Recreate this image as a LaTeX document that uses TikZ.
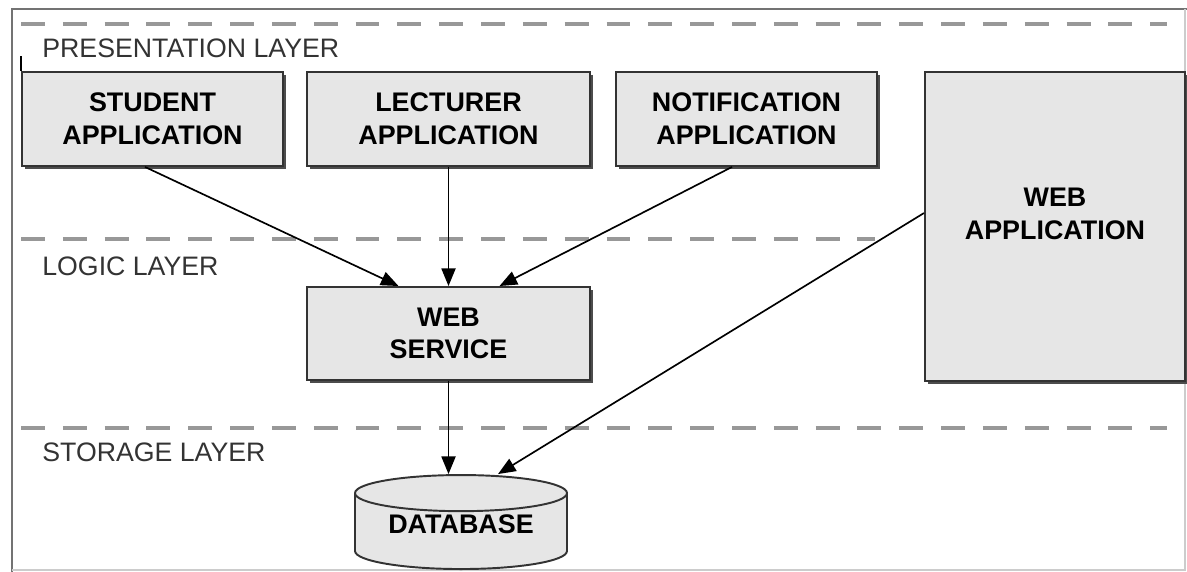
\documentclass[tikz,border=0pt]{standalone}
\usepackage{fontspec}
\setmainfont{Liberation Sans}
\usetikzlibrary{arrows.meta,shapes.geometric,shadows}
\definecolor{boxgray}{RGB}{230,230,230}
\definecolor{dashgray}{RGB}{152,152,152}
\tikzset{
    component/.style={
    rectangle,draw=black!80,line width=1.1pt,fill=boxgray,
    align=center,font=\fontsize{15.3}{18.5}\selectfont\bfseries,
    drop shadow={shadow xshift=1.8pt,shadow yshift=-1.8pt,fill=black!70,opacity=1}
    },
    storage/.style={
    cylinder,shape border rotate=90,aspect=0.23,draw=black!80,line width=1.1pt,
    fill=boxgray,font=\fontsize{15.3}{18.5}\selectfont\bfseries
    },
    layer/.style={
    dash pattern=on 13.6pt off 10.2pt,line width=2.3pt,draw=dashgray
    },
    layername/.style={
    anchor=west,inner sep=0pt,text=black!80,font=\fontsize{15.2}{19}\selectfont
    },
    call/.style={
    -{Triangle[length=10pt,width=8pt]},line width=0.95pt,draw=black
    },
}
\begin{document}
\begin{tikzpicture}
   \useasboundingbox (0,0) rectangle (23.74,-11.44);
   % outer frame
   \draw[black!55,line width=1.2pt] (0.24,-11.44) -- (0.24,-0.18) -- (23.74,-0.18);
   \draw[black!20,line width=0.6pt] (23.70,-0.18) -- (23.70,-11.40) -- (0.24,-11.40);

   % layer borders and names
   \draw[layer] (0.42,-0.48) -- (23.34,-0.48);
   \draw[layer] (0.42,-4.78) -- (17.50,-4.78);
   \draw[layer] (0.42,-8.56) -- (23.34,-8.56);
   \node[layername] (pres) at (0.84,-0.96) {PRESENTATION LAYER};
   \node[layername] (logic) at (0.84,-5.32) {LOGIC LAYER};
   \node[layername] (store) at (0.84,-9.04) {STORAGE LAYER};

   % clients
   \node[component,minimum width=5.22cm,minimum height=1.88cm] (stud) at (3.05,-2.38) {STUDENT\\APPLICATION};
   \node[component,minimum width=5.66cm,minimum height=1.88cm] (lect) at (8.97,-2.38) {LECTURER\\APPLICATION};
   \node[component,minimum width=5.22cm,minimum height=1.88cm] (noti) at (14.93,-2.38) {NOTIFICATION\\APPLICATION};
   \node[component,minimum width=5.20cm,minimum height=6.18cm,text depth=0.5cm] (webapp) at (21.10,-4.53) {WEB\\APPLICATION};
   \draw[black,line width=1pt] (stud.north west) -- ++(0,0.3);

   % service and storage
   \node[component,minimum width=5.66cm,minimum height=1.86cm] (ws) at (8.97,-6.67) {WEB\\SERVICE};
   \node[storage,minimum width=4.24cm,minimum height=1.88cm,inner ysep=0pt,text depth=0.4cm,anchor=south] (db) at (9.22,-11.40) {DATABASE};

   \path[-]
    ([xshift=-0.15cm]stud.south) edge [call] ([xshift=-1cm]ws.north)
    (lect.south) edge [call] (ws.north)
    ([xshift=-0.29cm]noti.south) edge [call] ([xshift=1.02cm]ws.north)
    (ws.south) edge [call] (ws.south |- db.north)
    ([yshift=0.27cm]webapp.west) edge [call] ([xshift=0.74cm]db.north);
\end{tikzpicture}
\end{document}
